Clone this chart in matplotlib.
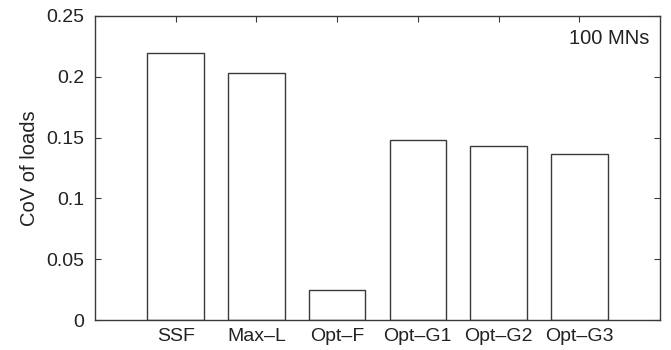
import matplotlib
matplotlib.use("Agg")
import matplotlib.pyplot as plt

categories = ["SSF", "Max\u2013L", "Opt\u2013F", "Opt\u2013G1", "Opt\u2013G2", "Opt\u2013G3"]
cov_values = [0.2195, 0.2035, 0.0249, 0.1478, 0.1428, 0.1368]
yticks = [0, 0.05, 0.1, 0.15, 0.2, 0.25]
ytick_labels = ["0", "0.05", "0.1", "0.15", "0.2", "0.25"]

plt.rcParams['font.family'] = ['Liberation Sans', 'DejaVu Sans']
plt.rcParams['font.size'] = 14

fig = plt.figure(figsize=(6.71, 3.5), dpi=100)
ax = fig.add_axes([0.1416, 0.0857, 0.8420, 0.8686])

edge = "#3a3a3a"
pos = list(range(1, len(categories) + 1))
ax.bar(pos, cov_values, width=0.7, color="white", edgecolor=edge, linewidth=1.0, zorder=2)

ax.set_xlim(0, 7)
ax.set_ylim(0, 0.25)
ax.set_xticks(pos)
ax.set_xticklabels(categories)
ax.set_yticks(yticks)
ax.set_yticklabels(ytick_labels)
ax.set_ylabel("CoV of loads", color="#222222", fontsize=14.5, labelpad=5)

for s in ax.spines.values():
    s.set_color(edge)
    s.set_linewidth(1.0)

ax.tick_params(axis="both", direction="in", length=4, width=0.8, colors=edge,
               labelcolor="#222222", top=True, right=True, bottom=False, left=True)
ax.tick_params(axis="x", pad=6)
ax.tick_params(axis="y", pad=8)

ax.text(0.981, 0.925, "100 MNs", transform=ax.transAxes, ha="right", va="center",
        color="#222222", fontsize=14.5)

fig.savefig("out.png", dpi=100)
